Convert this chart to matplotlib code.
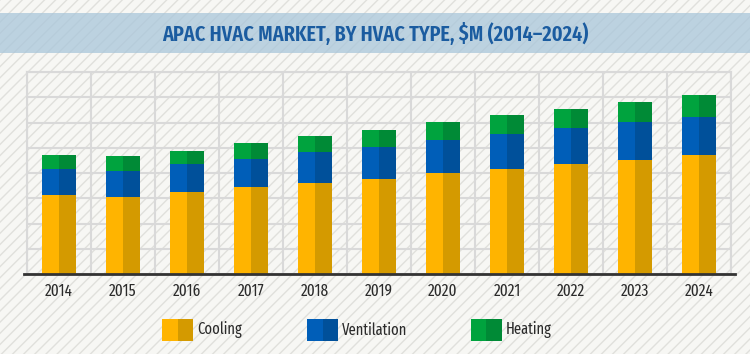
import matplotlib
matplotlib.use("Agg")
import matplotlib.pyplot as plt
from matplotlib.patches import Rectangle
from matplotlib.lines import Line2D
from matplotlib import font_manager as fm
import numpy as np

years = ["2014", "2015", "2016", "2017", "2018", "2019", "2020", "2021", "2022", "2023", "2024"]
cooling = [3.12, 3.06, 3.25, 3.43, 3.59, 3.77, 4.00, 4.17, 4.34, 4.53, 4.70]
ventilation = [1.05, 1.02, 1.10, 1.13, 1.24, 1.27, 1.32, 1.39, 1.45, 1.49, 1.53]
heating = [0.53, 0.58, 0.54, 0.62, 0.62, 0.66, 0.70, 0.73, 0.75, 0.79, 0.85]
series_names = ["Cooling", "Ventilation", "Heating"]
title = "APAC HVAC MARKET, BY HVAC TYPE, $M (2014\u20132024)"

light = ["#FFB400", "#005EB8", "#00A33E"]
dark = ["#D49A00", "#00509A", "#008A36"]


def find_condensed(target):
    best = None
    for f in fm.fontManager.ttflist:
        name = f.name.lower()
        stretch = str(f.stretch).lower()
        fname = f.fname.lower()
        flat = fname.replace("-", "").replace("_", "")
        cond = ("condensed" in stretch or "narrow" in name or "condensed" in name
                or "condensed" in fname or "narrow" in fname)
        if not cond or "mono" in name or "cjk" in name or "semicondensed" in flat:
            continue
        if "italic" in str(f.style).lower() or "italic" in fname or "oblique" in fname:
            continue
        w = f.weight if isinstance(f.weight, int) else {"bold": 700, "normal": 400, "regular": 400}.get(str(f.weight).lower(), 400)
        score = abs(w - target)
        if "extracondensed" in flat or "extra" in stretch:
            score -= 80
        if best is None or score < best[0]:
            best = (score, f.fname)
    return best[1] if best else None


cb = find_condensed(600)
cr = find_condensed(400)
fp_title = fm.FontProperties(fname=cb) if cb else fm.FontProperties(family="DejaVu Sans", weight="bold")
fp_reg = fm.FontProperties(fname=cr) if cr else fm.FontProperties(family="DejaVu Sans")

plt.rcParams["hatch.color"] = "#E0E0DC"
plt.rcParams["hatch.linewidth"] = 1.0

W, H = 750, 354
fig = plt.figure(figsize=(W / 100, H / 100), dpi=100)
fig.patch.set_facecolor("#F7F7F4")
renderer = fig.canvas.get_renderer()


def fit(fp, text, target_w, max_size):
    fp = fp.copy()
    fp.set_size(max_size)
    t = fig.text(0, 0, text, fontproperties=fp)
    w = t.get_window_extent(renderer).width
    t.remove()
    size = min(max_size, max_size * target_w / w)
    fp.set_size(size)
    return fp


bg = Rectangle((0, 0), 1, 1, transform=fig.transFigure, facecolor="#F7F7F4",
               edgecolor="#E0E0DC", hatch="///", linewidth=0, zorder=-10)
fig.add_artist(bg)

# Title band
band = Rectangle((0, 1 - 53 / H), 1, 40 / H, transform=fig.transFigure,
                 facecolor="#A9C6DA", alpha=0.75, linewidth=0, zorder=-5)
fig.add_artist(band)
fig.text(0.5, 1 - 33.5 / H, title, ha="center", va="center", color="#1B5CA0",
         fontproperties=fit(fp_title, title, 425, 21))

ax = fig.add_axes([27 / W, 1 - 274 / H, 704 / W, 202 / H])
ax.set_facecolor("none")
x = np.arange(len(years))
bw = 0.52
bottoms = np.zeros(len(years))
for vals, lc, dc in zip([cooling, ventilation, heating], light, dark):
    v = np.array(vals)
    ax.bar(x - bw / 4, v, width=bw / 2, bottom=bottoms, color=lc, linewidth=0, zorder=3)
    ax.bar(x + bw / 4, v, width=bw / 2, bottom=bottoms, color=dc, linewidth=0, zorder=3)
    bottoms += v

ax.set_xlim(-0.5, len(years) - 0.5)
ax.set_ylim(0, 8)
ax.set_yticks(np.arange(0, 9, 1))
ax.set_xticks(x)
fp_tick = fit(fp_reg, "2014", 28, 14)
ax.set_xticklabels(years, fontproperties=fp_tick, color="#2B2B2B")
ax.set_xticks(np.arange(-0.5, len(years), 1), minor=True)
ax.tick_params(axis="x", which="both", length=0, pad=6.5)
ax.tick_params(axis="y", which="both", length=0, labelleft=False)
ax.grid(True, axis="y", which="major", color="#D9D9D9", linewidth=1.5, zorder=1)
ax.grid(True, axis="x", which="minor", color="#D9D9D9", linewidth=1.5, zorder=1)
ax.grid(False, axis="x", which="major")
for s in ["left", "right", "top"]:
    ax.spines[s].set_color("#D9D9D9")
    ax.spines[s].set_linewidth(1.5)
ax.spines["bottom"].set_visible(False)
base = Line2D([-0.004, 1.005], [0, 0], transform=ax.transAxes, color="#333333",
              linewidth=2, clip_on=False, zorder=5)
ax.add_line(base)

# Legend
legend_x = [162, 307, 471]
fp_leg = fit(fp_reg, "Ventilation", 66, 15)
for name, lc, dc, lx in zip(series_names, light, dark, legend_x):
    y0 = 1 - 341 / H
    hgt = 22 / H
    fig.add_artist(Rectangle((lx / W, y0), 15.5 / W, hgt, transform=fig.transFigure,
                             facecolor=lc, linewidth=0))
    fig.add_artist(Rectangle(((lx + 15.5) / W, y0), 15.5 / W, hgt, transform=fig.transFigure,
                             facecolor=dc, linewidth=0))
    fig.text((lx + 35) / W, 1 - 330 / H, name, ha="left", va="center",
             fontproperties=fp_leg, color="#2B2B2B")

fig.savefig("out.png", dpi=100, facecolor=fig.get_facecolor())
